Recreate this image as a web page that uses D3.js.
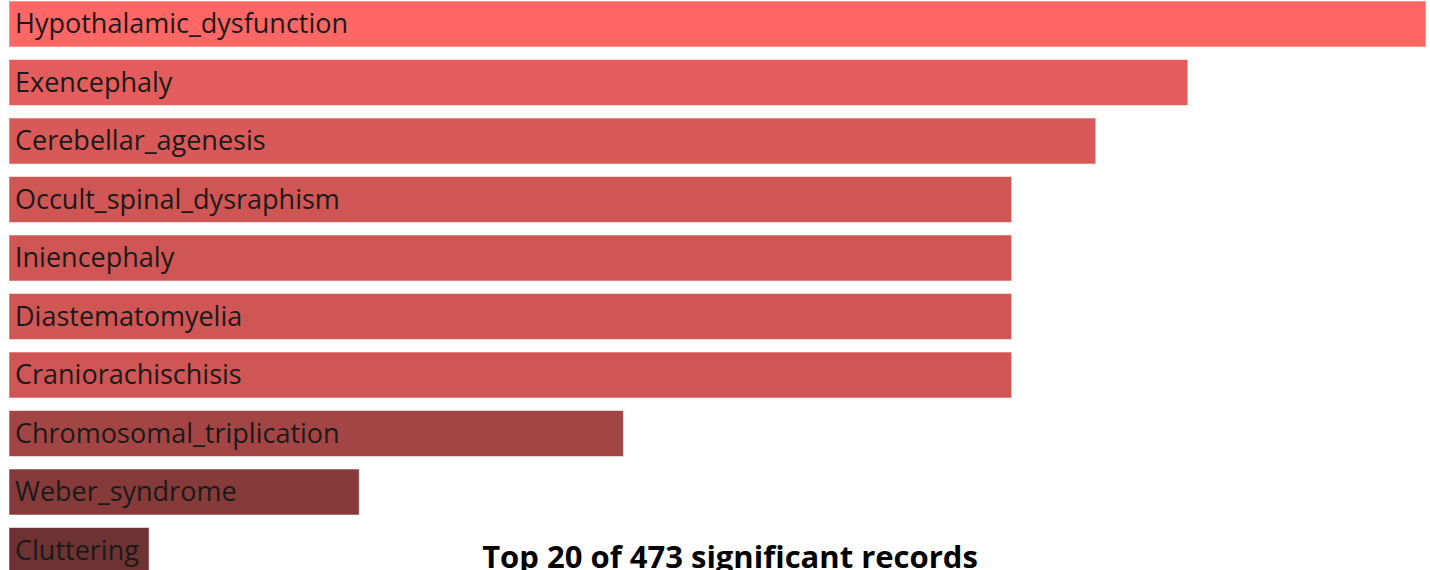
<!DOCTYPE html>
<html>
<head>
    <script src="https://d3js.org/d3.v7.min.js"></script>
    <style>
        body { margin: 0; background: #fff; overflow: hidden; }
        .label { font-family: "Open Sans", sans-serif; font-size: 27px; fill: #1a1a1a; }
        .title { font-family: "Open Sans", sans-serif; font-weight: bold; font-size: 31px; fill: #000; }
    </style>
</head>
<body>
    <svg width="1430" height="570"></svg>
    <script>
        // terms and their scores, top 10 visible
        var terms = ["Hypothalamic_dysfunction", "Exencephaly", "Cerebellar_agenesis",
            "Occult_spinal_dysraphism", "Iniencephaly", "Diastematomyelia",
            "Craniorachischisis", "Chromosomal_triplication", "Weber_syndrome", "Cluttering"];
        var scores = [7.08, 5.89, 5.43, 5.01, 5.01, 5.01, 5.01, 3.07, 1.75, 0.70];
        var titleText = "Top 20 of 473 significant records";

        var svg = d3.select("svg");

        var step = 58.5, barH = 46;

        var x = d3.scaleLinear()
            .domain([0, d3.max(scores)])
            .range([9, 1426]);

        var y = d3.scaleBand()
            .domain(terms)
            .range([1, 1 + step * (terms.length - 1) + barH])
            .paddingInner(1 - barH / step)
            .paddingOuter(0);

        var color = d3.scaleLinear()
            .domain([0, d3.max(scores)])
            .range(["#5e2c2c", "#ff6666"]);

        var bar = svg.selectAll(".bar")
            .data(terms)
            .enter().append("g")
            .attr("class", "bar");

        bar.append("rect")
            .attr("x", x(0))
            .attr("y", function(d) { return y(d); })
            .attr("width", function(d, i) { return x(scores[i]) - x(0); })
            .attr("height", y.bandwidth())
            .attr("fill", function(d, i) { return color(scores[i]); })
            .attr("stroke", "#fff")
            .attr("stroke-opacity", 0.55)
            .attr("stroke-width", 1);

        bar.append("text")
            .attr("class", "label")
            .attr("x", x(0) + 6)
            .attr("y", function(d) { return y(d) + y.bandwidth() / 2 + 9; })
            .text(function(d) { return d; });

        svg.append("text")
            .attr("class", "title")
            .attr("x", 730)
            .attr("y", 568)
            .attr("text-anchor", "middle")
            .text(titleText);
    </script>
</body>
</html>
